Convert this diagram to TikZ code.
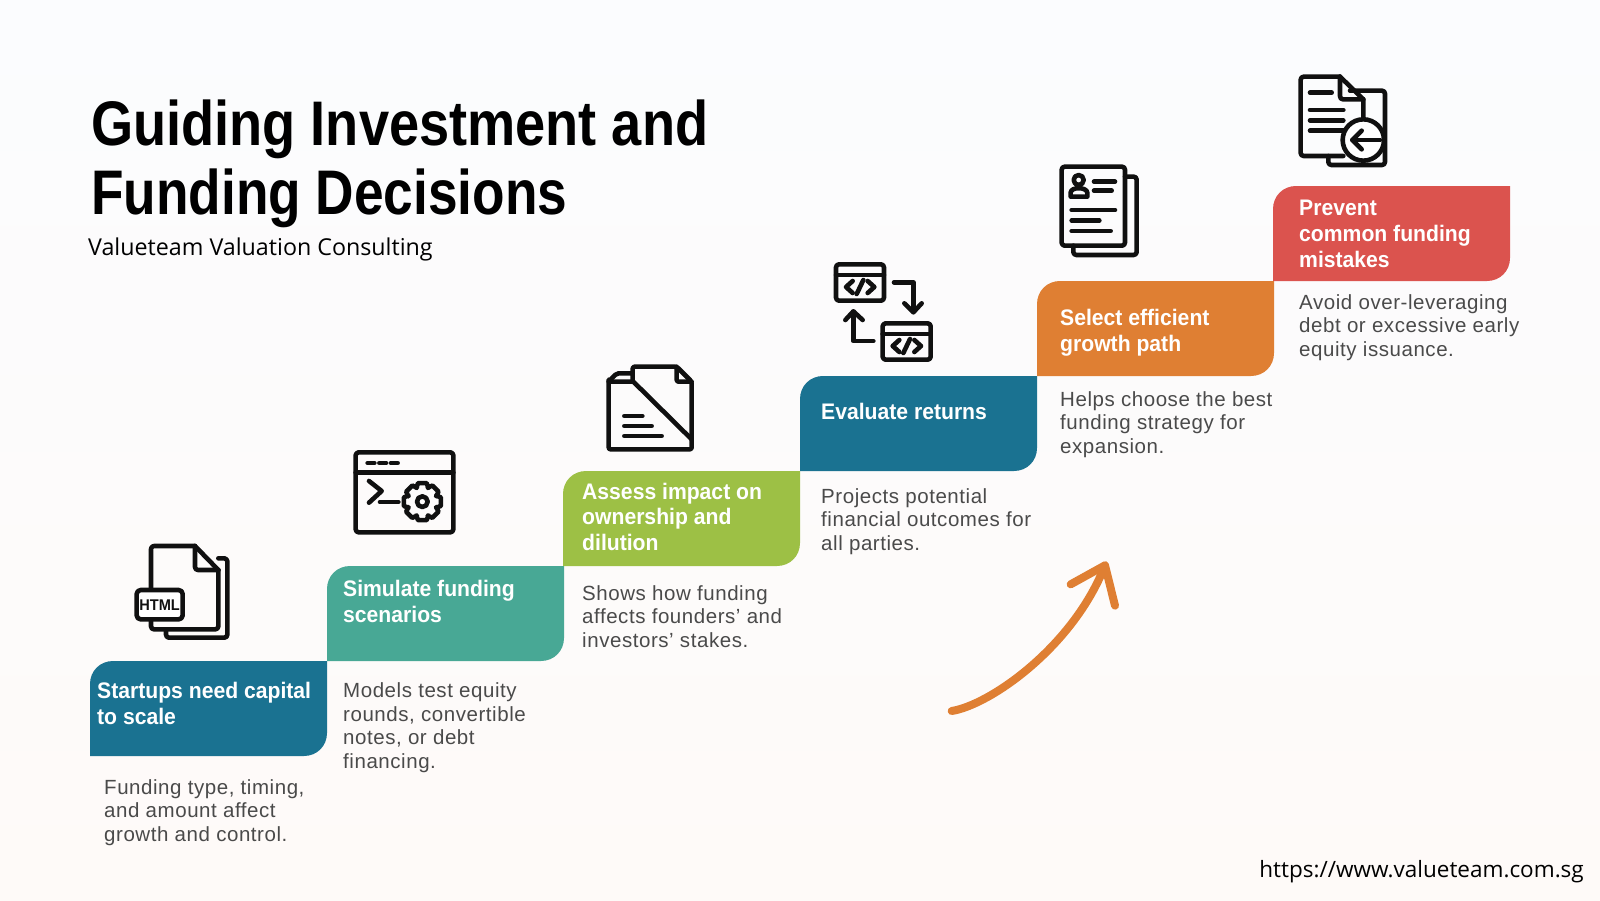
\documentclass[tikz,border=0pt]{standalone}
\usepackage{fontspec}
\setmainfont{Liberation Sans}
\newfontfamily\titlefont{Liberation Sans}[FakeStretch=0.86]
\newfontfamily\titlefontb{Liberation Sans}[FakeStretch=0.845]
\newfontfamily\headfont{Liberation Sans}[FakeStretch=0.94]
\newfontfamily\bodyfont{Liberation Sans}[LetterSpace=2.7]
\newfontfamily\subfont{Open Sans}
\definecolor{bgtop}{HTML}{FBFCFE}
\definecolor{bgbot}{HTML}{FEFAF8}
\definecolor{tealdark}{HTML}{1A7291}
\definecolor{tealmid}{HTML}{48A895}
\definecolor{leaf}{HTML}{9DC045}
\definecolor{amber}{HTML}{DF7F33}
\definecolor{coral}{HTML}{DB534E}
\definecolor{bodygrey}{HTML}{4A4A4A}
\definecolor{inkblack}{HTML}{101010}
\newcommand{\stepshape}[3]{%
 \fill[#3] ({#1},{#2+95}) -- ({#1},{#2+23})
  .. controls ({#1},{#2+10}) and ({#1+10},{#2}) .. ({#1+23},{#2})
  -- ({#1+237},{#2}) -- ({#1+237},{#2+72})
  .. controls ({#1+237},{#2+85}) and ({#1+227},{#2+95}) .. ({#1+214},{#2+95})
  -- cycle;}
\tikzset{
 headtext/.style={anchor=base west,align=left,inner sep=0pt,text=white,font=\headfont\fontsize{22.5}{25.7}\selectfont\bfseries},
 bodytext/.style={anchor=base west,align=left,inner sep=0pt,text=bodygrey,font=\bodyfont\fontsize{20.5}{23.5}\selectfont},
 subtext/.style={anchor=base west,inner sep=0pt,text=black,font=\subfont\fontsize{22.5}{26}\selectfont},
 titletext/.style={anchor=base west,align=left,inner sep=0pt,text=black,font=\titlefont\fontsize{63}{69}\selectfont\bfseries},
 iconline/.style={draw=inkblack,line width=4.6pt,line join=round,line cap=round},
 iconfill/.style={iconline,fill=white},
 growarrow/.style={draw=amber,line width=8pt,line cap=round,line join=round},
}
\begin{document}
\begin{tikzpicture}[x=1pt,y=-1pt]
\useasboundingbox (0,0) rectangle (1600,900);
\shade[top color=bgtop,bottom color=bgbot] (0,0) rectangle (1600,900);

\node[titletext] (title) at (91,214) {Guiding Investment and\\{\titlefontb\bfseries Funding Decisions}};
\node[subtext,font=\subfont\fontsize{23.25}{26}\selectfont] (subtitle) at (88,255) {Valueteam Valuation Consulting};
\node[subtext,anchor=base east] (url) at (1584,877) {https://www.valueteam.com.sg};

\stepshape{90}{661}{tealdark}
\stepshape{327}{566}{tealmid}
\stepshape{563}{471}{leaf}
\stepshape{800}{376}{tealdark}
\stepshape{1037}{281}{amber}
\stepshape{1273}{186}{coral}

\node[headtext] (h1) at (97,724) {Startups need capital\\to scale};
\node[headtext] (h2) at (343,622) {Simulate funding\\scenarios};
\node[headtext] (h3) at (582,550.5) {Assess impact on\\ownership and\\dilution};
\node[headtext] (h4) at (821,419) {Evaluate returns};
\node[headtext] (h5) at (1060,351) {Select efficient\\growth path};
\node[headtext] (h6) at (1299,267) {Prevent\\common funding\\mistakes};

\node[bodytext] (b1) at (104,841) {Funding type, timing,\\and amount affect\\growth and control.};
\node[bodytext] (b2) at (343,768) {Models test equity\\rounds, convertible\\notes, or debt\\financing.};
\node[bodytext] (b3) at (582,647) {Shows how funding\\affects founders’ and\\investors’ stakes.};
\node[bodytext] (b4) at (821,550) {Projects potential\\financial outcomes for\\all parties.};
\node[bodytext] (b5) at (1060,453) {Helps choose the best\\funding strategy for\\expansion.};
\node[bodytext] (b6) at (1299,356) {Avoid over-leveraging\\debt or excessive early\\equity issuance.};

% icon 1
\begin{scope}[shift={(80,520)},scale=1/3]
 \draw[iconline,rounded corners=3pt] (415,115) -- (442,115) -- (442,353) -- (258,353) -- (258,328);
 \draw[iconline,rounded corners=3pt] (345,78) -- (213,78) -- (213,328) -- (415,328) -- (415,150);
 \draw[iconline] (345,78) -- (415,150);
 \draw[iconline,rounded corners=3pt] (345,78) -- (345,150) -- (415,150);
 \draw[iconfill,rounded corners=4pt] (170,210) rectangle (308,298);
 \node[inner sep=0pt,text=inkblack,font=\headfont\fontsize{15.5}{16}\selectfont\bfseries] (htmllabel) at (239,255) {HTML};
\end{scope}

% icon 2
\begin{scope}[shift={(340,350)},scale=1/3]
 \draw[iconline,rounded corners=3pt] (47,307) rectangle (340,547);
 \draw[iconline] (47,368) -- (340,368);
 \draw[iconline] (83,339) -- (103,339) (118,339) -- (138,339) (153,339) -- (173,339);
 \draw[iconline] (87,393) -- (125,423) -- (87,458);
 \draw[iconline] (120,456) -- (175,456);
 \draw[iconline]
  \foreach \a [count=\n] in {0,45,...,315} {
   \ifnum\n=1 ({247+45*cos(\a-24)},{455+45*sin(\a-24)}) \else -- ({247+45*cos(\a-24)},{455+45*sin(\a-24)}) \fi
   -- ({247+57*cos(\a-13)},{455+57*sin(\a-13)})
   -- ({247+57*cos(\a+13)},{455+57*sin(\a+13)})
   -- ({247+45*cos(\a+24)},{455+45*sin(\a+24)})
  } -- cycle;
 \draw[iconline] (247,455) circle (16);
\end{scope}

% icon 3
\begin{scope}[shift={(340,350)},scale=1/3]
 \draw[iconline,rounded corners=2pt] (878,95) -- (878,50) -- (1010,50) -- (1055,95) -- (1055,298) -- (806,298) -- (806,95) -- (806,95) -- (830,70) -- (878,70);
 \draw[iconline] (806,95) -- (880,95) -- (1055,268);
 \draw[iconline,rounded corners=2pt] (1010,50) -- (1010,95) -- (1055,95);
 \draw[iconline] (853,198) -- (907,198) (853,228) -- (935,228) (853,258) -- (965,258);
\end{scope}

% icon 4
\begin{scope}[shift={(800,150)},scale=1/3]
 \foreach \dx/\dy in {0/0,140/177} {
  \begin{scope}[shift={(\dx,\dy)}]
   \draw[iconline,rounded corners=3pt] (108,343) rectangle (252,452);
   \draw[iconline] (108,375) -- (252,375);
   \draw[iconline] (158,393) -- (138,411) -- (158,429);
   \draw[iconline] (203,393) -- (223,411) -- (203,429);
   \draw[iconline] (190,390) -- (170,432);
  \end{scope}
 }
 \draw[iconline] (282,397) -- (340,397) -- (340,485);
 \draw[iconline] (313,460) -- (340,487) -- (365,460);
 \draw[iconline] (220,573) -- (160,573) -- (160,485);
 \draw[iconline] (136,510) -- (160,484) -- (188,510);
\end{scope}

% icon 5
\begin{scope}[shift={(800,150)},scale=1/3]
 \draw[iconline,rounded corners=3pt] (975,80) -- (1010,80) -- (1010,315) -- (820,315) -- (820,287);
 \draw[iconline,rounded corners=3pt] (785,50) rectangle (975,287);
 \draw[iconline] (836,90) circle (15);
 \draw[iconline] (812,140) -- (812,128) .. controls (812,110) and (860,110) .. (862,128) -- (862,140) -- cycle;
 \draw[iconline] (882,95) -- (945,95) (882,122) -- (935,122) (815,180) -- (945,180) (815,212) -- (898,212) (815,243) -- (932,243);
\end{scope}

% icon 6
\begin{scope}[shift={(1260,60)},scale=1/3]
 \draw[iconline,rounded corners=3pt] (270,92) -- (375,92) -- (375,315) -- (205,315) -- (205,288);
 \draw[iconline,rounded corners=3pt] (240,50) -- (122,50) -- (122,288) -- (250,288);
 \draw[iconline] (240,50) -- (310,118) -- (310,180);
 \draw[iconline,rounded corners=3pt] (240,50) -- (240,118) -- (310,118);
 \draw[iconline] (150,98) -- (215,98) (150,150) -- (250,150) (150,181) -- (250,181) (150,212) -- (255,212);
 \draw[iconfill] (310,240) circle (62);
 \draw[iconline] (360,240) -- (277,240);
 \draw[iconline] (305,212) -- (277,240) -- (305,268);
\end{scope}

% arrow
\begin{scope}[shift={(920,540)},scale=1/3]
 \coordinate (arrowstart) at (95,513);
 \coordinate (arrowtip) at (555,76);
 \draw[growarrow] (arrowstart) .. controls (210,495) and (460,320) .. (arrowtip);
 \draw[growarrow] (452,133) -- (arrowtip) -- (585,197);
\end{scope}
\end{tikzpicture}
\end{document}
